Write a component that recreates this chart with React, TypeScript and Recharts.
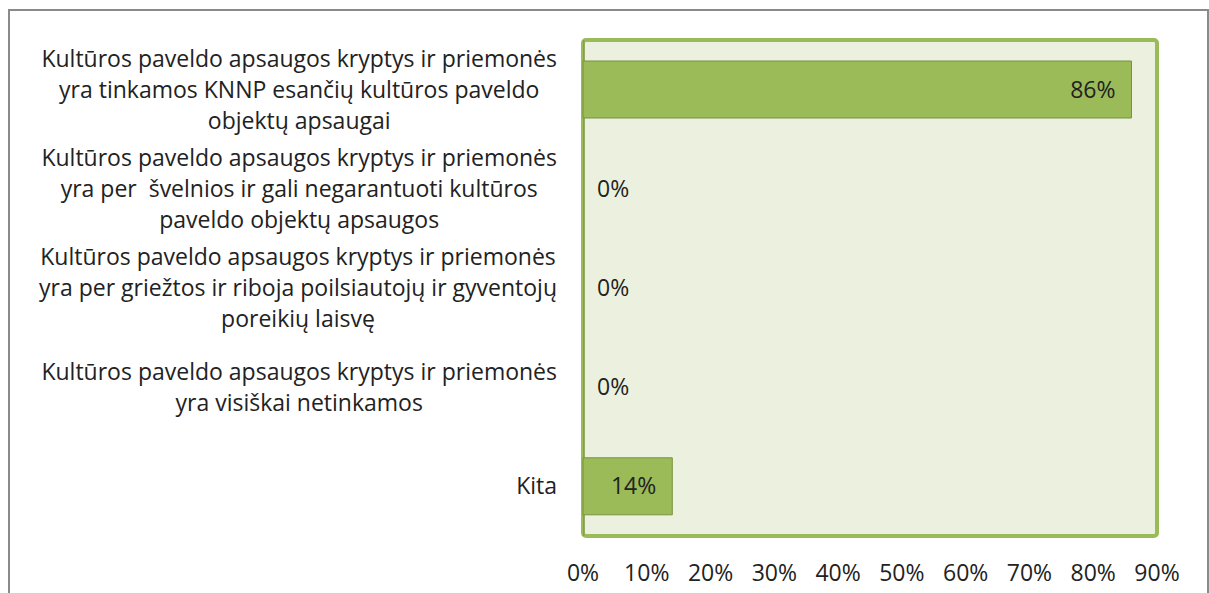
import { BarChart, Bar, XAxis, YAxis, ReferenceArea, Rectangle } from 'recharts';

const categories = [
  'Kultūros paveldo apsaugos kryptys ir priemonės\nyra tinkamos KNNP esančių kultūros paveldo\nobjektų apsaugai',
  'Kultūros paveldo apsaugos kryptys ir priemonės\nyra per  švelnios ir gali negarantuoti kultūros\npaveldo objektų apsaugos',
  'Kultūros paveldo apsaugos kryptys ir priemonės\nyra per griežtos ir riboja poilsiautojų ir gyventojų\nporeikių laisvę',
  'Kultūros paveldo apsaugos kryptys ir priemonės\nyra visiškai netinkamos',
  'Kita',
];
const shares = [86, 0, 0, 0, 14];
const xTicks = [0, 10, 20, 30, 40, 50, 60, 70, 80, 90];

const data = categories.map((name, i) => ({ name, value: shares[i] }));

const FONT = '"Open Sans", "Noto Sans", sans-serif';
const FS = 23;
const LINE = 31;

let ctx: CanvasRenderingContext2D | null = null;
function textWidth(s: string) {
  if (!ctx) ctx = document.createElement('canvas').getContext('2d');
  if (!ctx) return s.length * FS * 0.5;
  ctx.font = `${FS}px "Open Sans"`;
  return ctx.measureText(s).width;
}

function CategoryTick(props: any) {
  const { y, payload } = props;
  const lines = String(payload.value).split('\n');
  const maxW = Math.max(...lines.map(textWidth));
  const cx = 557 - maxW / 2;
  const startY = y - ((lines.length - 1) * LINE) / 2;
  return (
    <g>
      {lines.map((l, i) => (
        <text key={i} x={cx} y={startY + i * LINE} dy="0.35em" textAnchor="middle"
          fontFamily={FONT} fontSize={FS} fill="#222" style={{ whiteSpace: 'pre' }}>
          {l}
        </text>
      ))}
    </g>
  );
}

function BarWithLabel(props: any) {
  const { x, y, width, height, value } = props;
  const v = Array.isArray(value) ? value[1] - value[0] : value;
  const inside = v > 0;
  return (
    <g>
      {inside && (
        <Rectangle x={x} y={y} width={width} height={height} fill="#9BBB59" stroke="#77933C" strokeWidth={1} />
      )}
      <text x={inside ? x + width - 16 : x + 14} y={y + height / 2} dy="0.35em"
        textAnchor={inside ? 'end' : 'start'} fontFamily={FONT} fontSize={FS} fill="#222">
        {v}%
      </text>
    </g>
  );
}

export default function App() {
  return (
    <div style={{ position: 'absolute', left: 0, top: 0, width: 1209, height: 593, background: '#fff' }}>
      <div style={{ position: 'absolute', left: 8, top: 9, width: 1197, height: 600, border: '2px solid #8a8a8a', borderBottom: 'none' }} />
      <div style={{ position: 'absolute', left: 0, top: 0 }}>
        <BarChart width={1209} height={593} data={data} layout="vertical"
          margin={{ top: 40, right: 52, bottom: 0, left: 0 }}>
          <XAxis type="number" domain={[0, 90]} ticks={xTicks} tickFormatter={(v) => `${v}%`}
            axisLine={false} tickLine={false} height={57} tickMargin={23}
            tick={{ fontFamily: FONT, fontSize: FS, fill: '#222' }} interval={0} />
          <YAxis type="category" dataKey="name" width={583} axisLine={false} tickLine={false}
            tick={<CategoryTick />} interval={0} />
          <ReferenceArea x1={0} x2={90} fill="#EBF1DE" fillOpacity={1} stroke="#9BBB59"
            strokeWidth={4} radius={3} ifOverflow="extendDomain" />
          <Bar dataKey="value" barSize={57} fill="#9BBB59" minPointSize={0}
            shape={<BarWithLabel />} isAnimationActive={false} />
          <ReferenceArea x1={0.05} x2={0.2} fill="#868686" fillOpacity={1} stroke="none" />
        </BarChart>
      </div>
    </div>
  );
}
